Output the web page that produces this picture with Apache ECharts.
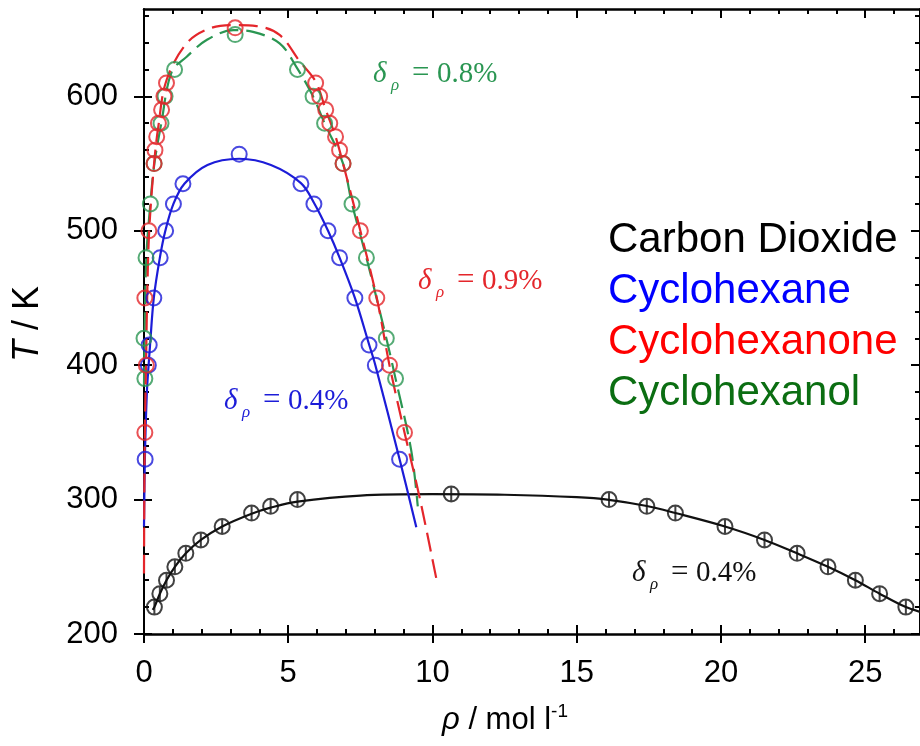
<!DOCTYPE html>
<html>
<head>
<meta charset="utf-8">
<script src="https://cdn.jsdelivr.net/npm/echarts@6/dist/echarts.min.js"></script>
<style>
  html, body { margin: 0; padding: 0; background: #fff; }
  #chart { width: 920px; height: 746px; }
</style>
</head>
<body>
<div id="chart"></div>
<script>
// axis ticks
const xMajor = [0, 5, 10, 15, 20, 25]
const xMinor = [0, 1, 2, 3, 4, 5, 6, 7, 8, 9, 10, 11, 12, 13, 14, 15, 16, 17, 18, 19, 20, 21, 22, 23, 24, 25, 26]
const yMajor = [200, 300, 400, 500, 600]
const yMinor = [220, 240, 260, 280, 320, 340, 360, 380, 420, 440, 460, 480, 520, 540, 560, 580, 620, 640, 660]

// measured points [rho, T]
const co2Points = [[0.36, 220], [0.55, 230], [0.78, 240], [1.07, 250], [1.45, 260], [1.97, 270], [2.71, 280], [3.73, 290], [4.39, 295], [5.32, 300], [10.65, 304.2], [16.12, 300], [17.43, 295], [18.42, 290], [20.14, 280], [21.51, 270], [22.64, 260], [23.71, 250], [24.66, 240], [25.5, 230], [26.41, 220]]
const hexanePoints = [[0.04, 330], [0.15, 400], [0.18, 415], [0.34, 450], [0.56, 480], [0.75, 500], [1.02, 520], [1.35, 535], [3.3, 557], [5.44, 535], [5.89, 520], [6.38, 500], [6.78, 480], [7.31, 450], [7.8, 415], [8.02, 400], [8.86, 330]]
const hexanonePoints = [[0.03, 350], [0.08, 400], [0.03, 450], [0.17, 500], [0.35, 550], [0.38, 560], [0.44, 570], [0.5, 580], [0.61, 590], [0.69, 600], [0.78, 610], [3.16, 651], [5.95, 610], [6.09, 600], [6.3, 590], [6.44, 580], [6.64, 570], [6.78, 560], [6.9, 550], [7.5, 500], [8.07, 450], [8.51, 400], [9.03, 350]]
const hexanolPoints = [[0.03, 390], [0.0, 420], [0.07, 480], [0.22, 520], [0.35, 550], [0.59, 580], [0.73, 600], [1.06, 620], [3.16, 646], [5.32, 620], [5.86, 600], [6.26, 580], [6.9, 550], [7.21, 520], [7.71, 480], [8.4, 420], [8.72, 390]]

// fitted curves
const co2Curve = [[0.3, 218], [0.36, 220], [0.55, 230], [0.78, 240], [1.07, 250], [1.45, 260], [1.97, 270], [2.71, 280], [3.73, 289.5], [4.39, 294], [5.32, 298.5], [7.5, 303], [10, 304], [12.5, 303.6], [15, 301.8], [16.12, 299.8], [17.43, 295.2], [18.42, 290], [20.14, 280], [21.51, 270], [22.64, 260], [23.71, 250], [24.66, 240], [25.5, 230], [26.41, 220], [26.9, 216.5]]
const hexaneCurve = [[0.0, 280], [0.03, 330], [0.1, 380], [0.16, 400], [0.21, 415], [0.34, 450], [0.55, 480], [0.74, 500], [1.02, 520], [1.4, 535], [2.2, 549], [3.3, 553.6], [4.4, 549], [5.44, 535.5], [5.9, 520.5], [6.38, 500], [6.78, 480], [7.31, 450], [7.8, 415.6], [8.02, 400], [8.86, 330], [9.44, 279.5]]
const hexanoneCurve = [[0.0, 245], [0.01, 300], [0.03, 350], [0.07, 400], [0.11, 450], [0.18, 500], [0.35, 550], [0.5, 578], [0.78, 612], [1.48, 639.5], [2.28, 650.6], [3.15, 653], [3.9, 652.3], [4.7, 645.7], [5.4, 626], [5.95, 611], [6.3, 590], [6.64, 570], [6.9, 550], [7.5, 500], [8.07, 450], [8.51, 400], [9.03, 350], [9.55, 302], [10.13, 241.6]]
const hexanolCurve = [[0.0, 385], [0.02, 420], [0.08, 480], [0.22, 520], [0.36, 550], [0.6, 580], [0.96, 618.3], [1.48, 629.5], [2.17, 641.9], [3.09, 649.3], [3.78, 648], [4.7, 639.4], [5.28, 622], [5.86, 600], [6.26, 580], [6.9, 550], [7.21, 520], [7.71, 480], [8.4, 420], [8.72, 390], [9.26, 337], [9.49, 295]]

const legendNames = ['Carbon Dioxide', 'Cyclohexane', 'Cyclohexanone', 'Cyclohexanol']
const deviations = ['0.4%', '0.4%', '0.9%', '0.8%']

const black = '#111111'
const blue = '#1c1cd8'
const red = '#e4262b'
const green = '#2a9652'
const legendColors = ['#000000', '#0000ff', '#ff0000', '#0b6e12']

const barCircle = 'path://M10,0 A10,10 0 1,1 10,20 A10,10 0 1,1 10,0 Z M10,0 L10,20'

function pointSeries(data, color, symbol) {
  return {
    type: 'scatter',
    data: data,
    symbol: symbol || 'circle',
    symbolSize: 15,
    z: 4,
    itemStyle: { color: 'rgba(0,0,0,0)', borderColor: color, borderWidth: 2 },
    silent: true
  }
}

function curveSeries(data, color, dashed) {
  return {
    type: 'line',
    data: data,
    smooth: 0.35,
    showSymbol: false,
    z: 3,
    lineStyle: { color: color, width: 2.2, type: dashed ? [19, 8] : 'solid' },
    silent: true
  }
}

function xAxisCfg(position, values, inside, len, showLine, showLabel) {
  return {
    type: 'value', min: 0, max: 26.9, position: position,
    axisLine: { show: showLine, onZero: false, lineStyle: { color: '#000', width: 2.5 } },
    axisTick: { show: true, inside: inside, length: len, customValues: values, lineStyle: { color: '#000', width: 2 } },
    axisLabel: { show: showLabel, customValues: xMajor, margin: 24, fontSize: 31, color: '#000', fontFamily: 'Liberation Sans' },
    splitLine: { show: false }
  }
}

function yAxisCfg(position, values, inside, len, showLine, showLabel) {
  return {
    type: 'value', min: 200, max: 665, position: position,
    axisLine: { show: showLine, onZero: false, lineStyle: { color: '#000', width: 2 } },
    axisTick: { show: true, inside: inside, length: len, customValues: values, lineStyle: { color: '#000', width: 2 } },
    axisLabel: { show: showLabel, customValues: yMajor, margin: 26, fontSize: 31, color: '#000', fontFamily: 'Liberation Sans' },
    splitLine: { show: false }
  }
}

function deltaLabel(x, y, color, value) {
  const serif = 'Liberation Serif'
  return {
    type: 'group', x: x, y: y,
    children: [
      { type: 'text', x: 0, y: 0, style: { text: 'δ', fontSize: 29, fontStyle: 'italic', fontFamily: serif, fill: color, align: 'left', verticalAlign: 'middle' } },
      { type: 'text', x: 18, y: 12, style: { text: 'ρ', fontSize: 17, fontStyle: 'italic', fontFamily: serif, fill: color, align: 'left', verticalAlign: 'middle' } },
      { type: 'text', x: 39, y: 0, style: { text: '=', fontSize: 31, fontFamily: serif, fill: color, align: 'left', verticalAlign: 'middle' } },
      { type: 'text', x: 64, y: 0, style: { text: value, fontSize: 29, fontFamily: serif, fill: color, align: 'left', verticalAlign: 'middle' } }
    ]
  }
}

const chart = echarts.init(document.getElementById('chart'))

const graphics = [
  deltaLabel(373, 74, green, deviations[3]),
  deltaLabel(418, 281, red, deviations[2]),
  deltaLabel(224, 401, blue, deviations[1]),
  deltaLabel(632, 573, black, deviations[0]),
  {
    type: 'text', x: 28, y: 324, rotation: Math.PI / 2,
    style: {
      text: '{i|T} / K', fontSize: 36, fontFamily: 'Liberation Sans', fill: '#000', align: 'center', verticalAlign: 'middle',
      rich: { i: { fontSize: 36, fontStyle: 'italic', fontFamily: 'Liberation Sans' } }
    }
  },
  {
    type: 'text', x: 505, y: 720,
    style: {
      text: '{i|ρ} / mol l{s|-1}', fontSize: 31, fontFamily: 'Liberation Sans', fill: '#000', align: 'center', verticalAlign: 'middle',
      rich: {
        i: { fontSize: 31, fontStyle: 'italic', fontFamily: 'Liberation Sans' },
        s: { fontSize: 19, fontFamily: 'Liberation Sans', padding: [0, 0, 16, 0] }
      }
    }
  }
]
legendNames.forEach(function (name, i) {
  graphics.push({
    type: 'text', x: 608, y: 240 + i * 51,
    style: { text: name, fontSize: 42, fontFamily: 'Liberation Sans', fill: legendColors[i], align: 'left', verticalAlign: 'middle' }
  })
})

const option = {
  backgroundColor: '#fff',
  animation: false,
  grid: { left: 144, top: 9, width: 777, height: 625, containLabel: false },
  xAxis: [
    xAxisCfg('bottom', xMajor, false, 9, true, true),
    xAxisCfg('bottom', xMajor, true, 9, false, false),
    xAxisCfg('bottom', xMinor, true, 5, false, false),
    xAxisCfg('top', xMajor, true, 9, true, false),
    xAxisCfg('top', xMinor, true, 5, false, false)
  ],
  yAxis: [
    yAxisCfg('left', yMajor, false, 10, true, true),
    yAxisCfg('left', yMajor, true, 8, false, false),
    yAxisCfg('left', yMinor, true, 5, false, false),
    yAxisCfg('right', yMajor, true, 9, true, false),
    yAxisCfg('right', yMinor, true, 5, false, false)
  ],
  series: [
    curveSeries(co2Curve, black, false),
    pointSeries(co2Points, black, barCircle),
    curveSeries(hexaneCurve, blue, false),
    pointSeries(hexanePoints, blue),
    curveSeries(hexanolCurve, green, true),
    pointSeries(hexanolPoints, green),
    curveSeries(hexanoneCurve, red, true),
    pointSeries(hexanonePoints, red)
  ],
  graphic: graphics
}

chart.setOption(option)
</script>
</body>
</html>
